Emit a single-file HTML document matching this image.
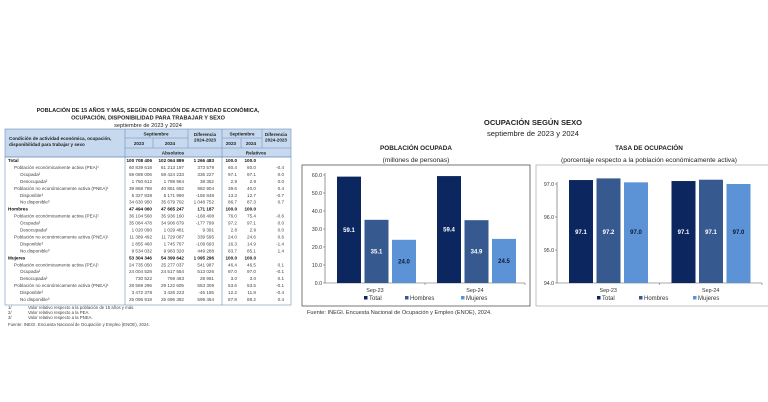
<!DOCTYPE html>
<html><head><meta charset="utf-8"><style>
body{margin:0;background:#fff;width:768px;height:402px;overflow:hidden;font-family:"Liberation Sans",sans-serif}
svg{display:block}
</style></head><body>
<svg id="s" width="768" height="402" viewBox="0 0 768 402" xmlns="http://www.w3.org/2000/svg" font-family="Liberation Sans, sans-serif">
<g text-anchor="middle" fill="#222">
<text x="148" y="112" font-size="5.6" font-weight="bold">POBLACIÓN DE 15 AÑOS Y MÁS, SEGÚN CONDICIÓN DE ACTIVIDAD ECONÓMICA,</text>
<text x="148" y="119.5" font-size="5.6" font-weight="bold">OCUPACIÓN, DISPONIBILIDAD PARA TRABAJAR Y SEXO</text>
<text x="148" y="127" font-size="5.6">septiembre de 2023 y 2024</text>
</g>
<g>
<rect x="5" y="129" width="286" height="28" fill="#c6d9ee" stroke="#6f8fb8" stroke-width="0.6"/>
<line x1="125" y1="129" x2="125" y2="305" stroke="#6f8fb8" stroke-width="0.6"/>
<line x1="222" y1="129" x2="222" y2="305" stroke="#6f8fb8" stroke-width="0.6"/>
<line x1="188" y1="129" x2="188" y2="148" stroke="#6f8fb8" stroke-width="0.5"/>
<line x1="262" y1="129" x2="262" y2="148" stroke="#6f8fb8" stroke-width="0.5"/>
<line x1="153" y1="138" x2="153" y2="148" stroke="#6f8fb8" stroke-width="0.5"/>
<line x1="241" y1="138" x2="241" y2="148" stroke="#6f8fb8" stroke-width="0.5"/>
<line x1="125" y1="138" x2="188" y2="138" stroke="#6f8fb8" stroke-width="0.5"/>
<line x1="222" y1="138" x2="262" y2="138" stroke="#6f8fb8" stroke-width="0.5"/>
<line x1="125" y1="148" x2="291" y2="148" stroke="#6f8fb8" stroke-width="0.5"/>
<g font-size="4.6" font-weight="bold" fill="#222" text-anchor="middle">
<text x="156" y="135.5">Septiembre</text><text x="139" y="145">2023</text><text x="170" y="145">2024</text>
<text x="205" y="136">Diferencia</text><text x="205" y="141.5">2024-2023</text>
<text x="242" y="135.5">Septiembre</text><text x="231" y="145">2023</text><text x="251" y="145">2024</text>
<text x="276" y="136">Diferencia</text><text x="276" y="141.5">2024-2023</text>
<text x="173" y="154.5">Absolutos</text><text x="256" y="154.5">Relativos</text>
</g>
<g font-size="4.6" font-weight="bold" fill="#222"><text x="9" y="140">Condición de actividad económica, ocupación,</text><text x="9" y="146">disponibilidad para trabajar y sexo</text></g>
</g>
<rect x="5" y="157" width="286" height="148" fill="none" stroke="#6f8fb8" stroke-width="0.6"/>
<g id="tb" font-size="4.6" fill="#333"></g>
<g font-size="4.3" fill="#444">
<text x="8" y="309">1/</text><text x="28" y="309">Valor relativo respecto a la población de 15 años y más.</text>
<text x="8" y="314">2/</text><text x="28" y="314">Valor relativo respecto a la PEA.</text>
<text x="8" y="319">3/</text><text x="28" y="319">Valor relativo respecto a la PNEA.</text>
<text x="8" y="326">Fuente: INEGI. Encuesta Nacional de Ocupación y Empleo (ENOE), 2024.</text>
</g>

<g text-anchor="middle" fill="#222">
<text x="533" y="125" font-size="7.6" font-weight="bold">OCUPACIÓN SEGÚN SEXO</text>
<text x="533" y="136" font-size="7.6">septiembre de 2023 y 2024</text>
<text x="416" y="150" font-size="6.4" font-weight="bold">POBLACIÓN OCUPADA</text>
<text x="416" y="162" font-size="6.6">(millones de personas)</text>
<text x="649" y="150" font-size="6.4" font-weight="bold">TASA DE OCUPACIÓN</text>
<text x="649" y="162" font-size="6.6">(porcentaje respecto a la población económicamente activa)</text>
</g>
<rect x="302" y="165" width="228" height="141" fill="none" stroke="#555" stroke-width="0.8"/>
<rect x="536" y="165" width="240" height="141" fill="none" stroke="#999" stroke-width="0.6"/>
<g id="c1"></g>
<g id="c2"></g>
<text x="307" y="314" font-size="5.6" fill="#333">Fuente: INEGI. Encuesta Nacional de Ocupación y Empleo (ENOE), 2024.</text>
</svg>
<script>
const periods=["Sep-23","Sep-24"];
const series=["Total","Hombres","Mujeres"];
const popTotal=[59.1,59.4];
const popHombres=[35.1,34.9];
const popMujeres=[24.0,24.5];
const popTicks=[0,10,20,30,40,50,60];
const rateTotal=[97.12,97.09];
const rateHombres=[97.17,97.13];
const rateMujeres=[97.05,97.0];
const rateLabels=[["97.1","97.2","97.0"],["97.1","97.1","97.0"]];
const rateTicks=[94,95,96,97];
const colors=["#0c2660","#36598f","#5b93d6"];
const NS="http://www.w3.org/2000/svg";
function mk(p,t,a,txt){const e=document.createElementNS(NS,t);for(const k in a)e.setAttribute(k,a[k]);if(txt!==undefined)e.textContent=txt;p.appendChild(e);return e;}

function chart(g,cfg){
 const y=v=>cfg.y0-(v-cfg.min)/(cfg.max-cfg.min)*(cfg.y0-cfg.y1);
 cfg.ticks.forEach(t=>{
  const tx=mk(g,"text",{x:cfg.ax-3,y:y(t)+2,"font-size":5.2,fill:"#333","text-anchor":"end"},t.toFixed(1));
  
  
  mk(g,"line",{x1:cfg.ax-2,x2:cfg.ax,y1:y(t),y2:y(t),stroke:"#555","stroke-width":0.5});
 });
 mk(g,"line",{x1:cfg.ax,x2:cfg.ax,y1:cfg.y1-2,y2:cfg.y0,stroke:"#555","stroke-width":0.6});
 mk(g,"line",{x1:cfg.ax,x2:cfg.ax2,y1:cfg.y0,y2:cfg.y0,stroke:"#555","stroke-width":0.6});
 const gw=(cfg.ax2-cfg.ax)/periods.length;
 periods.forEach((p,i)=>{
  const gx=cfg.ax+gw*i;
  mk(g,"line",{x1:gx+gw,x2:gx+gw,y1:cfg.y0,y2:cfg.y0+2,stroke:"#555","stroke-width":0.5});
  const pl=mk(g,"text",{x:gx+gw/2,y:cfg.y0+9,"font-size":5.4,fill:"#333","text-anchor":"middle"},p);
  
  
  cfg.vals.forEach((arr,j)=>{
   const bx=gx+cfg.off+j*(cfg.bw+cfg.gap);
   const r=mk(g,"rect",{x:bx,y:y(arr[i]),width:cfg.bw,height:cfg.y0-y(arr[i]),fill:colors[j]});
   
   
   const ly=cfg.labY(arr[i],j,y);
   const lt=mk(g,"text",{x:bx+cfg.bw/2,y:ly,"font-size":6,"font-weight":"bold",fill:j==2?"#0c1a3a":"#fff","text-anchor":"middle"},cfg.lab(arr[i],i,j));
   
   
  });
 });
 const lx=cfg.legX;
 series.forEach((s,j)=>{
  mk(g,"rect",{x:lx[j],y:cfg.y0+13,width:3.5,height:3.5,fill:colors[j]});
  const t=mk(g,"text",{x:lx[j]+5,y:cfg.y0+17,"font-size":6,fill:"#333"},s);
  
  
 });
}
chart(document.getElementById("c1"),{y0:283,y1:175,min:0,max:60,ax:325,ax2:525,ticks:popTicks,
 vals:[popTotal,popHombres,popMujeres],off:12,bw:24,gap:3.5,legX:[364,405,461],
 lab:(v)=>v.toFixed(1),labY:(v,j,y)=>(y(v)+283)/2+2});
chart(document.getElementById("c2"),{y0:283,y1:184,min:94,max:97,ax:557,ax2:762,ticks:rateTicks,
 vals:[rateTotal,rateHombres,rateMujeres],off:12,bw:24,gap:3.5,legX:[597,639,693],
 lab:(v,i,j)=>rateLabels[i][j],labY:(v,j,y)=>234});

const rows=[
["Total",0,1,"100 708 406","102 064 889","1 266 483","100.0","100.0",""],
["Población económicamente activa (PEA)¹",1,0,"60 839 618","61 213 197","373 579","60.4","60.0","-0.4"],
["Ocupada²",2,0,"59 089 006","59 424 233","335 227","97.1","97.1","0.0"],
["Desocupada²",2,0,"1 750 612","1 788 964","38 352","2.9","2.9","0.0"],
["Población no económicamente activa (PNEA)¹",1,0,"39 868 788","40 851 692","982 904","39.6","40.0","0.4"],
["Disponible³",2,0,"5 327 838","5 171 990","-155 848","13.3","12.7","-0.7"],
["No disponible³",2,0,"34 630 950","35 679 702","1 048 752","86.7","87.3","0.7"],
["Hombres",0,1,"47 494 060","47 665 247","171 187","100.0","100.0",""],
["Población económicamente activa (PEA)¹",1,0,"36 104 568","35 936 160","-168 408","76.0","75.4","-0.6"],
["Ocupada²",2,0,"35 084 478","34 906 679","-177 799","97.2","97.1","0.0"],
["Desocupada²",2,0,"1 020 090","1 029 481","9 391","2.8","2.9","0.0"],
["Población no económicamente activa (PNEA)¹",1,0,"11 389 492","11 729 087","339 595","24.0","24.6","0.6"],
["Disponible³",2,0,"1 855 460","1 745 767","-109 693","16.3","14.9","-1.4"],
["No disponible³",2,0,"9 534 032","9 983 320","449 288","83.7","85.1","1.4"],
["Mujeres",0,1,"53 304 346","54 399 642","1 095 296","100.0","100.0",""],
["Población económicamente activa (PEA)¹",1,0,"24 735 050","25 277 037","541 987","46.4","46.5","0.1"],
["Ocupada²",2,0,"24 004 528","24 517 554","513 026","97.0","97.0","-0.1"],
["Desocupada²",2,0,"730 522","759 483","28 961","3.0","3.0","0.1"],
["Población no económicamente activa (PNEA)¹",1,0,"28 569 296","29 122 605","553 309","53.6","53.5","-0.1"],
["Disponible³",2,0,"3 472 378","3 426 223","-46 155","12.2","11.8","-0.4"],
["No disponible³",2,0,"25 096 918","25 696 382","599 464","87.8","88.2","0.4"]];
const tb=document.getElementById("tb");
const colX=[152,184,214,237,256,284];
rows.forEach((r,i)=>{
 const yy=162+i*6.95;
 const g=mk(tb,"g",{});
 
 
 mk(g,"text",{x:8+r[1]*6,y:yy,"font-weight":r[2]?"bold":"normal",fill:r[2]?"#111":"#444"},r[0]);
 for(let k=0;k<6;k++)mk(g,"text",{x:colX[k],y:yy,"text-anchor":"end","font-weight":(r[2]&&k<5)?"bold":"normal",fill:r[2]?"#111":"#444"},r[3+k]);
});
</script>
</body></html>
